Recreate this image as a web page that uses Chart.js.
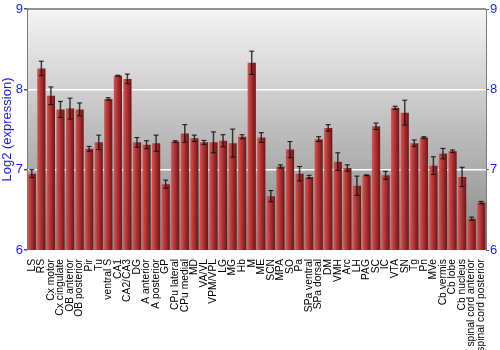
<!DOCTYPE html>
<html>
<head>
<meta charset="utf-8">
<script src="https://cdn.jsdelivr.net/npm/chart.js@4"></script>
<style>
  html, body { margin: 0; padding: 0; background: #fff; }
  #wrap { width: 500px; height: 350px; }
</style>
</head>
<body>
<div id="wrap"><canvas id="chart"></canvas></div>
<script>
const regions = ['LS', 'RS', 'Cx motor', 'Cx cingulate', 'OB anterior', 'OB posterior', 'Pir', 'Tu',
    'ventral S', 'CA1', 'CA2/CA3', 'DG', 'A anterior', 'A posterior', 'GP', 'CPu lateral', 'CPu medial',
    'MD', 'VA/VL', 'VPM/VPL', 'LG', 'MG', 'Hb', 'M', 'ME', 'SCN', 'MPA', 'SO', 'Pa', 'SPa ventral',
    'SPa dorsal', 'DM', 'VMH', 'Arc', 'LH', 'PAG', 'SC', 'IC', 'VTA', 'SN', 'Tg', 'Pn', 'MVe',
    'Cb vermis', 'Cb lobe', 'Cb nucleus', 'spinal cord anterior', 'spinal cord posterior'];

const expression = [6.95, 8.26, 7.92, 7.75, 7.76, 7.75, 7.26, 7.34,
    7.88, 8.17, 8.13, 7.34, 7.31, 7.33, 6.82, 7.35, 7.45,
    7.39, 7.34, 7.34, 7.36, 7.33, 7.41, 8.33, 7.40, 6.67, 7.04, 7.25, 6.95, 6.91,
    7.38, 7.52, 7.10, 7.02, 6.80, 6.93, 7.54, 6.93, 7.77, 7.71, 7.33, 7.40, 7.05,
    7.20, 7.23, 6.91, 6.39, 6.59];

const errors = [0.05, 0.09, 0.11, 0.10, 0.13, 0.08, 0.03, 0.09,
    0.015, 0.005, 0.06, 0.06, 0.05, 0.10, 0.05, 0.01, 0.11,
    0.04, 0.025, 0.13, 0.075, 0.175, 0.025, 0.145, 0.06, 0.07, 0.02, 0.10, 0.09, 0.02,
    0.03, 0.04, 0.11, 0.04, 0.12, 0.005, 0.04, 0.05, 0.02, 0.155, 0.04, 0.01, 0.11,
    0.065, 0.015, 0.12, 0.02, 0.015];

const yTicks = [6, 7, 8, 9];

const BAR_PCT = 0.86;

// gray gradient behind the plot + dark line on top
const backdrop = {
    id: 'backdrop',
    beforeDraw(chart) {
        const { ctx, chartArea: a } = chart;
        const g = ctx.createLinearGradient(0, a.top, 0, a.bottom);
        g.addColorStop(0, '#f4f4f4');
        g.addColorStop(1, '#878787');
        ctx.save();
        ctx.fillStyle = g;
        ctx.fillRect(a.left, a.top, a.right - a.left, a.bottom - a.top);
        ctx.restore();
    },
    afterDraw(chart) {
        const { ctx, chartArea: a } = chart;
        ctx.save();
        ctx.strokeStyle = '#6e6e6e';
        ctx.lineWidth = 1.5;
        ctx.beginPath();
        ctx.moveTo(a.left, a.top);
        ctx.lineTo(a.right, a.top);
        ctx.stroke();
        ctx.restore();
    }
};

// error bars from the y scale
const errorBars = {
    id: 'errorBars',
    afterDatasetsDraw(chart) {
        const { ctx } = chart;
        const y = chart.scales.y;
        const bars = chart.getDatasetMeta(0).data;
        ctx.save();
        bars.forEach((bar, i) => {
            const e = errors[i];
            const top = y.getPixelForValue(expression[i] + e);
            const bot = y.getPixelForValue(expression[i] - e);
            ctx.strokeStyle = 'rgba(20,20,20,0.8)';
            ctx.lineWidth = 1.5;
            ctx.beginPath();
            ctx.moveTo(bar.x, top);
            ctx.lineTo(bar.x, bot);
            ctx.stroke();
            ctx.strokeStyle = '#111';
            ctx.lineWidth = 1;
            ctx.beginPath();
            ctx.moveTo(bar.x - 2.5, top);
            ctx.lineTo(bar.x + 2.5, top);
            ctx.moveTo(bar.x - 2.5, bot);
            ctx.lineTo(bar.x + 2.5, bot);
            ctx.stroke();
        });
        ctx.restore();
    }
};

function barFill(context) {
    const chart = context.chart;
    const xs = chart.scales.x;
    if (!chart.chartArea || !xs) return '#b03030';
    const cx = xs.getPixelForValue(context.dataIndex);
    const w = (xs.width / regions.length) * BAR_PCT;
    const g = chart.ctx.createLinearGradient(cx - w / 2, 0, cx + w / 2, 0);
    g.addColorStop(0, '#cf5a5a');
    g.addColorStop(0.35, '#bb3838');
    g.addColorStop(1, '#6e1414');
    return g;
}

const blue = '#1c1cf5';

new Chart(document.getElementById('chart'), {
    type: 'bar',
    data: {
        labels: regions,
        datasets: [{
            data: expression,
            backgroundColor: barFill,
            borderWidth: 0,
            barPercentage: BAR_PCT,
            categoryPercentage: 1.0
        }]
    },
    options: {
        responsive: true,
        maintainAspectRatio: false,
        animation: false,
        layout: { padding: { top: 9, right: 0, left: 0, bottom: 0 } },
        plugins: {
            legend: { display: false },
            tooltip: { enabled: false }
        },
        scales: {
            x: {
                grid: { display: false },
                border: { display: false },
                ticks: {
                    autoSkip: false,
                    minRotation: 90,
                    maxRotation: 90,
                    padding: 1,
                    color: '#000',
                    font: { family: 'Liberation Sans, Arial, sans-serif', size: 10.3 }
                },
                afterFit(scale) { scale.height = 100; }
            },
            y: {
                min: 6,
                max: 9,
                afterBuildTicks(scale) { scale.ticks = yTicks.map(v => ({ value: v })); },
                grid: {
                    color: c => (c.tick && (c.tick.value === 7 || c.tick.value === 8)) ? '#ffffff' : 'rgba(0,0,0,0)',
                    lineWidth: 1.5,
                    tickColor: '#555',
                    tickLength: 3
                },
                border: { color: '#7a7a7a', width: 1 },
                ticks: {
                    color: blue,
                    padding: 1,
                    font: { family: 'Liberation Sans, Arial, sans-serif', size: 13 }
                },
                title: {
                    display: true,
                    text: 'Log2 (expression)',
                    color: blue,
                    padding: 0,
                    font: { family: 'Liberation Sans, Arial, sans-serif', size: 13 }
                },
                afterFit(scale) { scale.width = 27; }
            },
            y2: {
                position: 'right',
                min: 6,
                max: 9,
                afterBuildTicks(scale) { scale.ticks = yTicks.map(v => ({ value: v })); },
                grid: {
                    drawOnChartArea: false,
                    tickColor: '#555',
                    tickLength: 3
                },
                border: { color: '#7a7a7a', width: 1 },
                ticks: {
                    color: blue,
                    padding: 1,
                    font: { family: 'Liberation Sans, Arial, sans-serif', size: 13 }
                },
                afterFit(scale) { scale.width = 14; }
            }
        }
    },
    plugins: [backdrop, errorBars]
});
</script>
</body>
</html>
